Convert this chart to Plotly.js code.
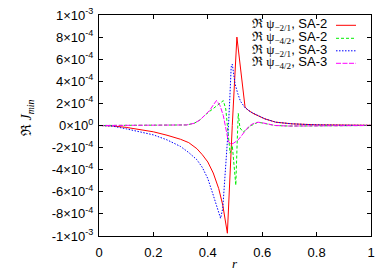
<!DOCTYPE html>
<html>
<head>
<meta charset="utf-8">
<script src="https://cdn.plot.ly/plotly-3.0.1.min.js"></script>
<style>html,body{margin:0;padding:0;background:#fff;}#chart{width:390px;height:273px;}</style>
</head>
<body>
<div id="chart"></div>
<script>
// values in units of 1e-4
const rRed  = [0, 0.05, 0.1, 0.15, 0.2, 0.25, 0.3, 0.33, 0.36, 0.38, 0.4, 0.42, 0.44, 0.455, 0.465, 0.472, 0.49, 0.507, 0.537, 0.55, 0.57, 0.61, 0.65, 0.71, 0.8, 0.9, 1.0];
const vRed  = [0, -0.04, -0.17, -0.35, -0.57, -0.88, -1.25, -1.55, -2.1, -2.65, -3.3, -4.3, -5.7, -7.2, -8.6, -9.75, 0.0, 8.0, 1.66, 1.35, 1.05, 0.6, 0.3, 0.15, 0.06, 0.03, 0.02];

const rGreen = [0, 0.1, 0.2, 0.3, 0.322, 0.35, 0.371, 0.39, 0.408, 0.43, 0.445, 0.457, 0.466, 0.475, 0.482, 0.49, 0.497, 0.503, 0.508, 0.512, 0.518, 0.53, 0.545, 0.56, 0.585, 0.61, 0.647, 0.7, 0.8, 1.0];
const vGreen = [0, 0, 0, 0.02, 0.05, 0.2, 0.5, 0.95, 1.3, 1.65, 1.95, 2.25, 1.5, -0.6, -2.5, -1.8, -3.5, -5.4, -1.5, 1.1, -0.2, -0.6, -0.3, 0.0, 0.3, 0.2, 0.0, -0.05, -0.02, 0];

const rBlue = [0, 0.05, 0.1, 0.15, 0.2, 0.25, 0.3, 0.33, 0.36, 0.38, 0.4, 0.42, 0.435, 0.447, 0.455, 0.462, 0.47, 0.476, 0.481, 0.486, 0.49, 0.494, 0.5, 0.51, 0.52, 0.537, 0.56, 0.61, 0.65, 0.71, 0.8, 0.9, 1.0];
const vBlue = [0, -0.06, -0.3, -0.55, -0.85, -1.3, -1.9, -2.45, -3.1, -3.8, -4.8, -6.3, -7.5, -8.4, -7.5, -5.0, -2.5, 0.0, 2.5, 5.3, 5.55, 5.0, 3.8, 2.9, 2.2, 1.6, 1.2, 0.6, 0.3, 0.15, 0.06, 0.03, 0.02];

const rMag = [0, 0.1, 0.2, 0.3, 0.322, 0.35, 0.371, 0.39, 0.408, 0.42, 0.432, 0.445, 0.457, 0.469, 0.475, 0.485, 0.495, 0.512, 0.525, 0.535, 0.55, 0.565, 0.585, 0.61, 0.647, 0.7, 0.8, 1.0];
const vMag = [0, 0, 0, 0.02, 0.05, 0.2, 0.5, 0.95, 1.4, 1.85, 2.26, 1.8, 0.9, -0.6, -1.4, -1.7, -1.6, -1.3, -0.9, -0.5, -0.1, 0.15, 0.3, 0.2, 0.0, -0.05, -0.02, 0];

const xTicks = [0, 0.2, 0.4, 0.6, 0.8, 1];
const yTickVals = [10, 8, 6, 4, 2, 0, -2, -4, -6, -8, -10];
const yTickText = ["1×10<sup>-3</sup>", "8×10<sup>-4</sup>", "6×10<sup>-4</sup>", "4×10<sup>-4</sup>", "2×10<sup>-4</sup>", "0×10<sup>0</sup>", "-2×10<sup>-4</sup>", "-4×10<sup>-4</sup>", "-6×10<sup>-4</sup>", "-8×10<sup>-4</sup>", "-1×10<sup>-3</sup>"];

const seriesNames = ["ψ<sub>−2/1</sub>", "ψ<sub>−4/2</sub>", "ψ<sub>−2/1</sub>", "ψ<sub>−4/2</sub>"];
const seriesCase = ["SA-2", "SA-2", "SA-3", "SA-3"];
const colors = ["#ff0000", "#00ee00", "#0000ff", "#ff00ff"];
const dashes = ["solid", "3px,2px", "1.5px,1.5px", "5px,1.5px"];

const rs = [rRed, rGreen, rBlue, rMag];
const vs = [vRed, vGreen, vBlue, vMag];

const traces = rs.map((r, i) => ({
  x: r, y: vs[i], type: 'scatter', mode: 'lines',
  line: {color: colors[i], width: 1, dash: dashes[i]},
  showlegend: false, hoverinfo: 'skip'
}));

// legend drawn manually (text left, sample right, as in reference)
const L = 99, T = 15, W = 272, H = 221;
const px = v => (v - L) / W;
const py = v => (T + H - v) / H;
const rowY = [24.5, 37.5, 50, 62.5];
const annotations = [];
const shapes = [];
rowY.forEach((y, i) => {
  annotations.push({
    xref: 'paper', yref: 'paper', x: px(329), y: py(y), xanchor: 'right', yanchor: 'middle',
    showarrow: false,
    text: '<span style="font-family:Liberation Serif">ℜ ' + seriesNames[i] + '</span>, ' + seriesCase[i],
    font: {family: 'Liberation Sans, Arial', size: 13, color: '#000'}
  });
  shapes.push({
    type: 'line', xref: 'paper', yref: 'paper', x0: px(336), x1: px(356), y0: py(y + 0.8), y1: py(y + 0.8),
    line: {color: colors[i], width: 1, dash: dashes[i]}
  });
});
annotations.push({
  xref: 'paper', yref: 'paper', x: px(27), y: py(118), xanchor: 'center', yanchor: 'middle',
  textangle: -90, showarrow: false,
  text: 'ℜ <i>J</i><sub><i>min</i></sub>',
  font: {family: 'Liberation Serif', size: 14, color: '#000'}
});
annotations.push({
  xref: 'paper', yref: 'paper', x: 0.5, y: py(263), xanchor: 'center', yanchor: 'middle',
  showarrow: false, text: '<i>r</i>',
  font: {family: 'Liberation Serif', size: 13, color: '#000'}
});

const layout = {
  width: 390, height: 273,
  margin: {l: L, r: 390 - L - W, t: T, b: 273 - T - H, pad: 0},
  paper_bgcolor: '#fff', plot_bgcolor: '#fff',
  font: {family: 'Liberation Sans, Arial', size: 13, color: '#000'},
  xaxis: {
    range: [0, 1], tickvals: xTicks, ticks: 'inside', ticklen: 4, tickcolor: '#000',
    showline: true, linecolor: '#000', linewidth: 1, mirror: 'ticks',
    showgrid: false, zeroline: false, tickfont: {size: 13}, ticklabelstandoff: 4
  },
  yaxis: {
    range: [-10, 10], tickvals: yTickVals, ticktext: yTickText, ticks: 'inside', ticklen: 4, tickcolor: '#000',
    showline: true, linecolor: '#000', linewidth: 1, mirror: 'ticks',
    showgrid: false, zeroline: false, tickfont: {size: 13}, ticklabelstandoff: 2
  },
  showlegend: false,
  annotations: annotations,
  shapes: shapes
};

Plotly.newPlot('chart', traces, layout, {staticPlot: true, displayModeBar: false});
</script>
</body>
</html>
